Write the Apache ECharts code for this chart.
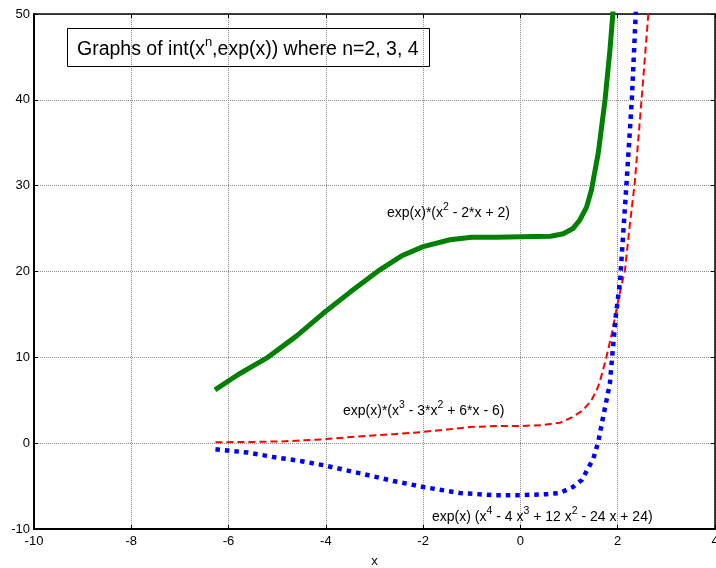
<!DOCTYPE html>
<html>
<head>
<meta charset="utf-8">
<script src="https://cdn.jsdelivr.net/npm/echarts@6/dist/echarts.min.js"></script>
<style>
html,body{margin:0;padding:0;background:#fff;overflow:hidden;}
#chart{width:716px;height:568px;}
</style>
</head>
<body>
<div id="chart"></div>
<script>
// x-axis ticks and y-axis ticks
const xTicks = [-10, -8, -6, -4, -2, 0, 2, 4];
const yTicks = [-10, 0, 10, 20, 30, 40, 50];

// n = 2 (green, solid)
const xN2 = [-6.28, -5.8, -5.22, -4.6, -4.06, -3.5, -2.89, -2.45, -2.0, -1.45, -1.0, -0.5, 0, 0.62, 0.88, 1.08, 1.22, 1.36, 1.46, 1.6, 1.74, 1.84, 1.9, 1.93];
const yN2 = [6.2, 8.0, 9.9, 12.5, 15.1, 17.6, 20.2, 21.8, 22.9, 23.7, 24.0, 24.0, 24.05, 24.1, 24.4, 25.0, 26.0, 27.5, 29.5, 33.8, 40.0, 45.8, 50, 53];

// n = 3 (red, dashed)
const xN3 = [-6.27, -5.5, -4.9, -4.06, -3.34, -2.6, -2.03, -1.5, -0.98, -0.5, 0, 0.43, 0.81, 1.08, 1.29, 1.46, 1.57, 1.63, 1.77, 1.88, 2.02, 2.15, 2.25, 2.35, 2.49, 2.56, 2.63, 2.66];
const yN3 = [0.1, 0.15, 0.2, 0.45, 0.78, 1.05, 1.3, 1.6, 1.9, 2.0, 2.0, 2.1, 2.37, 3.07, 3.85, 5.0, 6.2, 7.1, 10.06, 12.8, 16.9, 20.2, 25.5, 30.3, 40, 45, 50, 52];

// n = 4 (blue, dotted)
const xN4 = [-6.27, -5.6, -5.09, -4.5, -4.06, -3.34, -2.62, -2.0, -1.25, -0.56, 0, 0.54, 0.81, 1.08, 1.26, 1.39, 1.5, 1.6, 1.7, 1.77, 1.84, 1.9, 1.96, 2.05, 2.18, 2.29, 2.37, 2.4];
const yN4 = [-0.7, -1.1, -1.6, -2.1, -2.56, -3.46, -4.4, -5.1, -5.8, -6.06, -6.06, -5.94, -5.8, -5.1, -4.3, -2.95, -1.78, 0.15, 3.07, 5.0, 7.0, 11.0, 14.8, 19.0, 30.2, 40, 50, 53];

const pairs = (xs, ys) => xs.map((x, i) => [x, ys[i]]);

const FONT = '"Liberation Sans", Arial, sans-serif';
const chart = echarts.init(document.getElementById('chart'), null, {renderer: 'canvas'});

const axisCommon = {
  type: 'value',
  axisLine: {show: true, onZero: false, lineStyle: {color: '#000', width: 2}},
  axisTick: {show: true, inside: true, length: 4, lineStyle: {color: '#000', width: 1}},
  axisLabel: {color: '#000', fontSize: 13, fontFamily: FONT},
};

const subText = (text, x, y) => ({
  type: 'text', x: x, y: y, z: 101,
  style: {
    text: text,
    verticalAlign: 'middle',
    rich: {
      t: {fontSize: 14, fontFamily: FONT, fill: '#000', lineHeight: 19, verticalAlign: 'bottom'},
      s: {fontSize: 10.5, fontFamily: FONT, fill: '#000', lineHeight: 19, verticalAlign: 'top'}
    }
  }
});

const option = {
  animation: false,
  backgroundColor: '#fff',
  grid: {left: 34, top: 14, width: 681, height: 515, containLabel: false, outerBoundsMode: 'none'},
  xAxis: [
    Object.assign({}, axisCommon, {
      min: xTicks[0], max: xTicks[xTicks.length - 1], interval: 2,
      position: 'bottom',
      name: 'x', nameLocation: 'middle', nameGap: 26,
      nameTextStyle: {color: '#000', fontSize: 13, fontFamily: FONT},
      axisLabel: {color: '#000', fontSize: 13, fontFamily: FONT, margin: 6, showMaxLabel: true},
      splitLine: {show: true, lineStyle: {color: '#8c8c8c', type: 'dotted', width: 1}}
    }),
    Object.assign({}, axisCommon, {
      min: xTicks[0], max: xTicks[xTicks.length - 1], interval: 2,
      position: 'top',
      axisLine: {show: true, onZero: false, lineStyle: {color: '#000', width: 1.5}},
      axisLabel: {show: false}, splitLine: {show: false}
    })
  ],
  yAxis: [
    Object.assign({}, axisCommon, {
      min: yTicks[0], max: yTicks[yTicks.length - 1], interval: 10,
      position: 'left',
      axisLabel: {color: '#000', fontSize: 13, fontFamily: FONT, margin: 4},
      splitLine: {show: true, lineStyle: {color: '#8c8c8c', type: 'dotted', width: 1}}
    }),
    Object.assign({}, axisCommon, {
      min: yTicks[0], max: yTicks[yTicks.length - 1], interval: 10,
      position: 'right',
      axisLine: {show: true, onZero: false, lineStyle: {color: '#000', width: 1.5}},
      axisLabel: {show: false}, splitLine: {show: false}
    })
  ],
  series: [
    {
      type: 'line', data: pairs(xN2, yN2), showSymbol: false, clip: true,
      lineStyle: {color: '#008000', width: 5, cap: 'butt', join: 'round'}
    },
    {
      type: 'line', data: pairs(xN3, yN3), showSymbol: false, clip: true,
      lineStyle: {color: '#ff0000', width: 2, type: [7, 4]}
    },
    {
      type: 'line', data: pairs(xN4, yN4), showSymbol: false, clip: true,
      lineStyle: {color: '#0000ff', width: 4.5, type: [4.5, 5], cap: 'butt'}
    }
  ],
  graphic: [
    {
      type: 'rect', shape: {x: 67.5, y: 28.5, width: 362, height: 38},
      style: {fill: 'none', stroke: '#000', lineWidth: 1}, z: 100
    },
    {
      type: 'text', x: 77, y: 48, z: 101,
      style: {
        text: '{t|Graphs of int(x}{s|n}{t|,exp(x)) where n=2, 3, 4}',
        verticalAlign: 'middle',
        rich: {
          t: {fontSize: 19.5, fontFamily: FONT, fill: '#000', lineHeight: 24, verticalAlign: 'bottom'},
          s: {fontSize: 13, fontFamily: FONT, fill: '#000', lineHeight: 24, verticalAlign: 'top'}
        }
      }
    },
    subText('{t|exp(x)*(x}{s|2}{t| - 2*x + 2)}', 387, 211),
    subText('{t|exp(x)*(x}{s|3}{t| - 3*x}{s|2}{t| + 6*x - 6)}', 343, 409),
    subText('{t|exp(x) (x}{s|4}{t| - 4 x}{s|3}{t| + 12 x}{s|2}{t| - 24 x + 24)}', 432, 515)
  ]
};
chart.setOption(option);
</script>
</body>
</html>
